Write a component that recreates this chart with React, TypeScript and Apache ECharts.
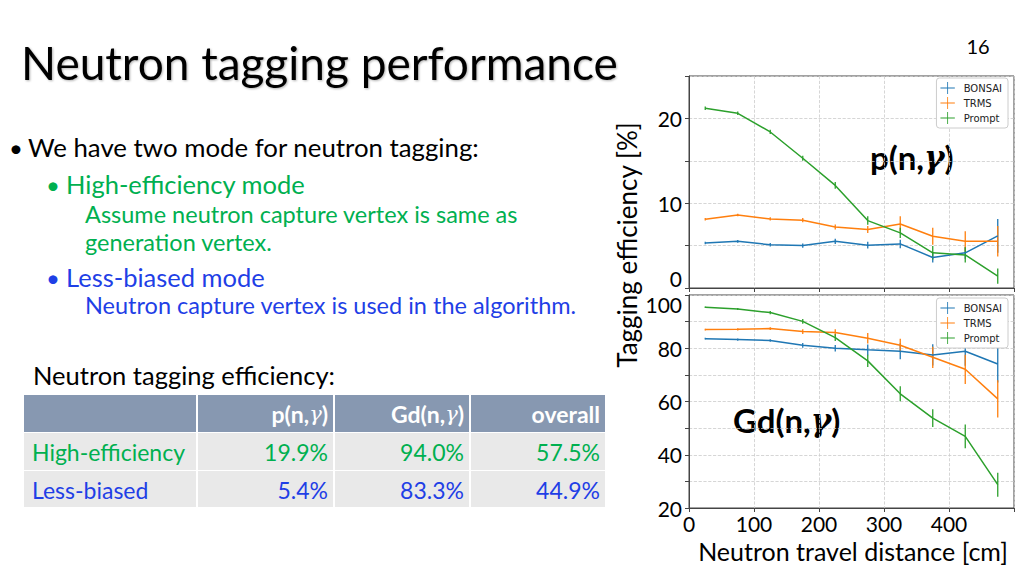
import React, { useEffect, useRef } from "react";
import * as echarts from "echarts";

const xs = [25, 75, 125, 175, 225, 275, 325, 375, 425, 475];
const seriesNames = ["BONSAI", "TRMS", "Prompt"];
const colors = ["#1f77b4", "#ff7f0e", "#2ca02c"];

// p(n,gamma) tagging efficiency [%]
const pBonsai = [5.3, 5.5, 5.1, 5.0, 5.5, 5.05, 5.2, 3.6, 4.15, 6.15];
const pBonsaiErr = [0.15, 0.15, 0.2, 0.25, 0.3, 0.4, 0.5, 0.6, 0.7, 2.0];
const pTrms = [8.1, 8.6, 8.15, 8.0, 7.2, 6.9, 7.55, 6.1, 5.5, 5.5];
const pTrmsErr = [0.15, 0.15, 0.2, 0.25, 0.3, 0.4, 0.9, 1.0, 1.2, 1.8];
const pPrompt = [21.2, 20.6, 18.4, 15.3, 12.1, 7.95, 6.5, 4.15, 3.9, 1.4];
const pPromptErr = [0.2, 0.2, 0.25, 0.3, 0.4, 0.5, 0.6, 0.8, 0.9, 0.9];

// Gd(n,gamma) tagging efficiency [%]
const gdBonsai = [83.6, 83.25, 82.9, 81.1, 80.0, 79.4, 78.9, 77.5, 78.9, 74.1];
const gdBonsaiErr = [0.3, 0.4, 0.5, 0.9, 1.2, 2.0, 3.0, 4.0, 5.5, 7.0];
const gdTrms = [87.0, 87.1, 87.4, 86.25, 85.9, 83.75, 81.1, 76.6, 72.1, 61.0];
const gdTrmsErr = [0.3, 0.4, 0.5, 0.9, 1.2, 2.0, 2.5, 4.0, 5.5, 7.0];
const gdPrompt = [95.4, 94.75, 93.4, 90.1, 84.0, 75.25, 62.9, 53.75, 46.9, 28.75];
const gdPromptErr = [0.3, 0.4, 0.6, 0.9, 1.3, 2.3, 2.8, 3.3, 4.5, 4.5];

// Table
const tableHeader = ["", "p(n,γ)", "Gd(n,γ)", "overall"];
const rowHigh = ["High-efficiency", "19.9%", "94.0%", "57.5%"];
const rowLess = ["Less-biased", "5.4%", "83.3%", "44.9%"];

const FONT = "Lato";
const GREEN = "#00b050";
const BLUE = "#1f3fe6";

function lineSeries(name: string, vals: number[], color: string, axis: number) {
  return {
    type: "line",
    name,
    xAxisIndex: axis,
    yAxisIndex: axis,
    data: xs.map((x, i) => [x, vals[i]]),
    showSymbol: false,
    symbol: "none",
    lineStyle: { color, width: 1.5 },
    itemStyle: { color },
    z: 3,
  };
}

function errSeries(name: string, vals: number[], errs: number[], color: string, axis: number) {
  return {
    type: "custom",
    name,
    xAxisIndex: axis,
    yAxisIndex: axis,
    silent: true,
    data: xs.map((x, i) => [x, vals[i], errs[i]]),
    renderItem: (params: any, api: any) => {
      const x = api.value(0);
      const y = api.value(1);
      const e = api.value(2);
      const p1 = api.coord([x, y - e]);
      const p2 = api.coord([x, y + e]);
      return {
        type: "line",
        shape: { x1: p1[0], y1: p1[1], x2: p2[0], y2: p2[1] },
        style: { stroke: color, lineWidth: 1.3 },
      };
    },
    z: 3,
  };
}

function buildTable() {
  const cols = [24, 198, 335, 471, 607];
  const rows = [395, 433, 471, 508];
  const els: any[] = [];
  for (let r = 0; r < 3; r++) {
    for (let c = 0; c < 4; c++) {
      els.push({
        type: "rect",
        shape: { x: cols[c], y: rows[r], width: cols[c + 1] - cols[c] - 2, height: rows[r + 1] - rows[r] - 1 },
        style: { fill: r === 0 ? "#8798b1" : "#e9e9e9" },
      });
    }
  }
  const data = [tableHeader, rowHigh, rowLess];
  const rowColors = ["#ffffff", GREEN, BLUE];
  for (let r = 0; r < 3; r++) {
    const yc = (rows[r] + rows[r + 1]) / 2;
    for (let c = 0; c < 4; c++) {
      const t = data[r][c];
      if (!t) continue;
      const bold = r === 0;
      let text = t;
      let rich: any = undefined;
      if (t.indexOf("γ") >= 0) {
        const parts = t.split("γ");
        text = "{a|" + parts[0] + "}{g|γ}{a|" + parts[1] + "}";
        rich = {
          a: { fontFamily: FONT, fontSize: 23, fontWeight: "bold", fill: "#fff" },
          g: { fontFamily: "DejaVu Serif", fontSize: 21, fontStyle: "italic", fill: "#fff" },
        };
      }
      els.push({
        type: "text",
        x: c === 0 ? 32 : cols[c + 1] - 7,
        y: yc,
        style: {
          text,
          rich,
          fill: rowColors[r],
          fontFamily: FONT,
          fontSize: 23,
          fontWeight: bold ? "bold" : "normal",
          align: c === 0 ? "left" : "right",
          verticalAlign: "middle",
        },
      });
    }
  }
  return els;
}

function gammaLabel(prefix: string, x: number, y: number) {
  return {
    type: "text",
    x,
    y,
    style: {
      text: "{a|" + prefix + "(n,}{g|γ}{a|)}",
      rich: {
        a: { fontFamily: FONT, fontSize: 33, fontWeight: "bold", fill: "#000" },
        g: { fontFamily: "DejaVu Serif", fontSize: 31, fontStyle: "italic", fontWeight: "bold", fill: "#000" },
      },
      align: "left",
      verticalAlign: "middle",
    },
  };
}

function txt(x: number, y: number, text: string, fill: string, size: number) {
  return { type: "text", x, y, style: { text, fill, fontFamily: FONT, fontSize: size, verticalAlign: "middle" } };
}

export default function App() {
  const ref = useRef<HTMLDivElement>(null);
  useEffect(() => {
    if (!ref.current) return;
    const chart = echarts.init(ref.current, undefined, { renderer: "svg" });
    const axisText = { color: "#000", fontFamily: FONT, fontSize: 21 };
    const splitDashed = { show: true, lineStyle: { type: "dashed", color: "#cccccc", width: 0.8 } };
    const axisLineStyle = { show: true, lineStyle: { color: "#444", width: 1 } };
    const legendCommon = {
      orient: "vertical",
      right: 16,
      itemWidth: 22,
      itemHeight: 12,
      itemGap: 3,
      padding: [4, 6, 4, 4],
      backgroundColor: "#fff",
      borderColor: "#cccccc",
      borderWidth: 1,
      borderRadius: 3,
      icon: "path://M0,9.3h24v1.4h-24z M11.3,0h1.4v20h-1.4z",
      textStyle: { fontFamily: "DejaVu Sans", fontSize: 10, color: "#222" },
      data: seriesNames,
      selectedMode: false,
    };
    const option: any = {
      animation: false,
      backgroundColor: "#fff",
      grid: [
        { left: 689, right: 10, top: 76, height: 212, show: true, borderColor: "#444", borderWidth: 1, backgroundColor: "transparent" },
        { left: 689, right: 10, top: 295, height: 213, show: true, borderColor: "#444", borderWidth: 1, backgroundColor: "transparent" },
      ],
      xAxis: [
        {
          type: "value", gridIndex: 0, min: 0, max: 500, interval: 100,
          axisLabel: { show: false }, axisTick: { show: true, length: 4, lineStyle: { color: "#444" } },
          axisLine: axisLineStyle, splitLine: splitDashed,
        },
        {
          type: "value", gridIndex: 1, min: 0, max: 500, interval: 100,
          axisLabel: { ...axisText, margin: 5, formatter: (v: number) => (v >= 500 ? "" : String(v)) },
          axisTick: { show: true, length: 4, lineStyle: { color: "#444" } },
          axisLine: axisLineStyle, splitLine: splitDashed,
        },
      ],
      yAxis: [
        {
          type: "value", gridIndex: 0, min: 0, max: 25, interval: 5,
          axisLabel: {
            ...axisText, margin: 7,
            formatter: (v: number) => (v === 0 ? "{lo|0}" : v % 10 === 0 ? String(v) : ""),
            rich: { lo: { ...axisText, padding: [0, 0, 20, 0] } },
          },
          axisTick: { show: true, length: 4, lineStyle: { color: "#444" } },
          axisLine: axisLineStyle, splitLine: splitDashed,
        },
        {
          type: "value", gridIndex: 1, min: 20, max: 100, interval: 10,
          axisLabel: {
            ...axisText, margin: 7,
            formatter: (v: number) => (v === 100 ? "{hi|100}" : v % 20 === 0 ? String(v) : ""),
            rich: { hi: { ...axisText, padding: [18, 0, 0, 0] } },
          },
          axisTick: { show: true, length: 4, lineStyle: { color: "#444" } },
          axisLine: axisLineStyle, splitLine: splitDashed,
        },
      ],
      legend: [
        { ...legendCommon, top: 78 },
        { ...legendCommon, top: 298 },
      ],
      series: [
        lineSeries("BONSAI", pBonsai, colors[0], 0),
        lineSeries("TRMS", pTrms, colors[1], 0),
        lineSeries("Prompt", pPrompt, colors[2], 0),
        errSeries("BONSAI", pBonsai, pBonsaiErr, colors[0], 0),
        errSeries("TRMS", pTrms, pTrmsErr, colors[1], 0),
        errSeries("Prompt", pPrompt, pPromptErr, colors[2], 0),
        lineSeries("BONSAI", gdBonsai, colors[0], 1),
        lineSeries("TRMS", gdTrms, colors[1], 1),
        lineSeries("Prompt", gdPrompt, colors[2], 1),
        errSeries("BONSAI", gdBonsai, gdBonsaiErr, colors[0], 1),
        errSeries("TRMS", gdTrms, gdTrmsErr, colors[1], 1),
        errSeries("Prompt", gdPrompt, gdPromptErr, colors[2], 1),
      ],
      graphic: [
        {
          type: "text", x: 21, y: 62,
          style: {
            text: "Neutron tagging performance", fill: "#000", fontFamily: FONT, fontSize: 46,
            verticalAlign: "middle", textShadowColor: "rgba(0,0,0,0.3)", textShadowBlur: 2, textShadowOffsetX: 1, textShadowOffsetY: 1,
          },
        },
        { type: "text", x: 978, y: 46, style: { text: "16", fill: "#000", fontFamily: FONT, fontSize: 20, align: "center", verticalAlign: "middle" } },
        txt(9, 147, "•", "#000", 24),
        txt(28, 147, "We have two mode for neutron tagging:", "#000", 25.8),
        txt(46, 184, "•", GREEN, 24),
        txt(66, 184, "High-efficiency mode", GREEN, 25.5),
        txt(85, 214, "Assume neutron capture vertex is same as", GREEN, 23.5),
        txt(85, 242, "generation vertex.", GREEN, 23.5),
        txt(46, 277, "•", BLUE, 24),
        txt(66, 277, "Less-biased mode", BLUE, 25.5),
        txt(85, 305, "Neutron capture vertex is used in the algorithm.", BLUE, 23.5),
        txt(33, 375, "Neutron tagging efficiency:", "#000", 25.5),
        ...buildTable(),
        gammaLabel("p", 870, 157),
        gammaLabel("Gd", 733, 420),
        {
          type: "text", x: 627, y: 245, rotation: Math.PI / 2,
          style: { text: "Tagging efficiency [%]", fill: "#000", fontFamily: FONT, fontSize: 26, align: "center", verticalAlign: "middle" },
        },
        {
          type: "text", x: 853, y: 551,
          style: { text: "Neutron travel distance [cm]", fill: "#000", fontFamily: FONT, fontSize: 25, align: "center", verticalAlign: "middle" },
        },
      ],
    };
    chart.setOption(option);
    return () => chart.dispose();
  }, []);
  return <div ref={ref} style={{ position: "fixed", left: 0, top: 0, width: 1024, height: 576 }} />;
}
